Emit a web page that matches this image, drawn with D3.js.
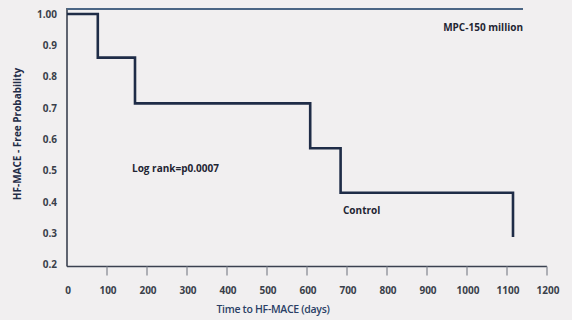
<!DOCTYPE html>
<html><head><meta charset="utf-8">
<script src="https://cdn.jsdelivr.net/npm/d3@7"></script>
<style>html,body{margin:0;padding:0;background:#f1eff0;}svg{display:block;}</style>
</head><body>
<script>
const xTicks = [0,100,200,300,400,500,600,700,800,900,1000,1100,1200];
const yTicks = [1.0,0.9,0.8,0.7,0.6,0.5,0.4,0.3,0.2];
const yTickLabels = ["1.00","0.9","0.8","0.7","0.6","0.5","0.4","0.3","0.2"];
// Control KM curve: [time (days), survival]
const controlTimes = [0, 77, 170, 608, 684, 1115, 1115];
const controlSurv  = [1.0, 0.861, 0.715, 0.572, 0.430, 0.430, 0.289];
// MPC-150 million: no events
const mpcTimes = [0, 1140];
const mpcSurv  = [1.0, 1.0];

const W = 572, H = 320;
const svg = d3.select("body").append("svg").attr("width", W).attr("height", H);
svg.append("rect").attr("width", W).attr("height", H).attr("fill", "#f1eff0");

const x = d3.scaleLinear().domain([0, 1200]).range([67, 547]);
const y = d3.scaleLinear().domain([0.195, 1.0]).range([266.5, 14]);
const font = "'Open Sans', sans-serif";

// axes lines
svg.append("line").attr("x1", x(0)).attr("x2", x(0)).attr("y1", 8).attr("y2", y(0.195))
  .attr("stroke", "#3b4150").attr("stroke-width", 1.6);
svg.append("line").attr("x1", x(0)).attr("x2", x(1200)).attr("y1", y(0.195)).attr("y2", y(0.195))
  .attr("stroke", "#3b4150").attr("stroke-width", 1.6);

// x ticks
const xg = svg.append("g");
xg.selectAll("line").data(xTicks.filter(d => d > 0)).join("line")
  .attr("x1", d => x(d)).attr("x2", d => x(d))
  .attr("y1", y(0.195)).attr("y2", y(0.195) + 9)
  .attr("stroke", "#8a8d95").attr("stroke-width", 1.3);
xg.selectAll("text").data(xTicks).join("text")
  .attr("x", d => x(d) + 1).attr("y", 294)
  .attr("text-anchor", "middle")
  .attr("font-family", font).attr("font-weight", 700).attr("font-size", 10)
  .attr("fill", "#3a3f4a").text(d => d);

// y labels
svg.append("g").selectAll("text").data(yTicks).join("text")
  .attr("x", 57).attr("y", d => y(d) + 3.5)
  .attr("text-anchor", "end")
  .attr("font-family", font).attr("font-weight", 700).attr("font-size", 10)
  .attr("fill", "#3a3f4a").text((d, i) => yTickLabels[i]);

// curves
const stepLine = d3.line().x(d => x(d[0])).y(d => y(d[1])).curve(d3.curveStepAfter);
svg.append("path").datum(mpcTimes.map((t, i) => [t, mpcSurv[i]]))
  .attr("d", stepLine).attr("transform", "translate(0,-5)")
  .attr("fill", "none").attr("stroke", "#4a6584").attr("stroke-width", 2.2);
svg.append("path").datum(controlTimes.map((t, i) => [t, controlSurv[i]]))
  .attr("d", stepLine)
  .attr("fill", "none").attr("stroke", "#1f2c47").attr("stroke-width", 2.6);

// annotations
const ann = (tx, ty, txt, anchor) => svg.append("text").attr("x", tx).attr("y", ty)
  .attr("text-anchor", anchor).attr("font-family", font).attr("font-weight", 700)
  .attr("font-size", 10).attr("fill", "#1f2533").text(txt);
ann(523, 31, "MPC-150 million", "end");
ann(132, 172, "Log rank=p0.0007", "start");
ann(343, 214, "Control", "start");

// axis titles
svg.append("text").attr("x", 273).attr("y", 313).attr("text-anchor", "middle")
  .attr("font-family", font).attr("font-weight", 600).attr("font-size", 10.5)
  .attr("letter-spacing", -0.3)
  .attr("fill", "#2b3f66").text("Time to HF-MACE (days)");
svg.append("text").attr("transform", "translate(21,134) rotate(-90)")
  .attr("text-anchor", "middle")
  .attr("font-family", font).attr("font-weight", 700).attr("font-size", 10)
  .attr("fill", "#1f2c47").text("HF-MACE - Free Probability");
</script>
</body></html>
